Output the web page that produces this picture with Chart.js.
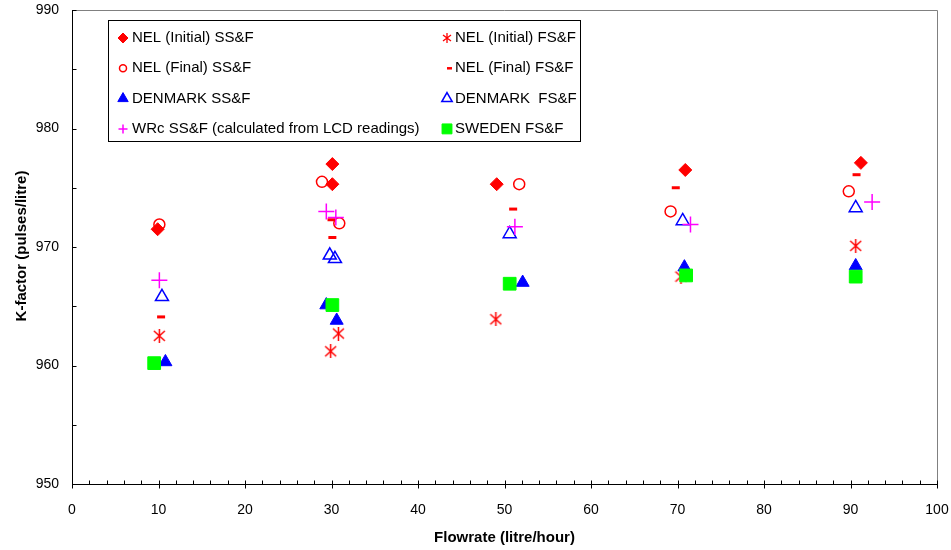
<!DOCTYPE html>
<html>
<head>
<meta charset="utf-8">
<script src="https://cdn.jsdelivr.net/npm/chart.js@4/dist/chart.umd.min.js"></script>
<style>
  html, body { margin: 0; padding: 0; background: #fff; }
  #wrap { width: 951px; height: 550px; }
</style>
</head>
<body>
<div id="wrap"><canvas id="chart" width="951" height="550"></canvas></div>
<script>
// --- 数据 ---
const nelInitSSx = [9.9, 30.1, 30.1, 49.1, 70.9, 91.2];
const nelInitSSy = [971.5, 977.0, 975.3, 975.3, 976.5, 977.1];

const nelInitFSx = [10.1, 30.8, 29.9, 49.0, 70.4, 90.6];
const nelInitFSy = [962.5, 962.7, 961.2, 963.9, 967.5, 970.1];

const nelFinalSSx = [10.1, 28.9, 30.9, 51.7, 69.2, 89.8];
const nelFinalSSy = [971.9, 975.5, 972.0, 975.3, 973.0, 974.7];

const nelFinalFSx = [10.3, 30.0, 30.1, 51.0, 69.8, 90.7];
const nelFinalFSy = [964.1, 972.3, 970.8, 973.2, 975.0, 976.1];

const denSSx = [10.8, 29.4, 30.6, 52.1, 70.8, 90.6];
const denSSy = [960.3, 965.1, 963.8, 967.0, 968.3, 968.4];

const denFSx = [10.4, 29.8, 30.4, 50.6, 70.6, 90.6];
const denFSy = [965.8, 969.3, 969.0, 971.1, 972.2, 973.3];

const wrcSSx = [10.1, 29.4, 30.5, 51.2, 71.5, 92.5];
const wrcSSy = [967.2, 973.0, 972.5, 971.7, 971.9, 973.8];

const sweFSx = [9.5, 30.1, 50.6, 71.0, 90.6];
const sweFSy = [960.2, 965.1, 966.9, 967.6, 967.5];

const xTicks = [0, 10, 20, 30, 40, 50, 60, 70, 80, 90, 100];
const yTicks = [950, 960, 970, 980, 990];

const FONT = "'Liberation Sans', Arial, sans-serif";

function pts(xs, ys) {
  return xs.map((x, i) => ({ x: x, y: ys[i] }));
}

// 星号标记 (竖线 + X)
function makeAsterisk(w, h, color, lw) {
  const c = document.createElement('canvas');
  c.width = w; c.height = h;
  const g = c.getContext('2d');
  g.strokeStyle = color; g.lineWidth = lw;
  g.beginPath();
  g.moveTo(w / 2, 0); g.lineTo(w / 2, h);
  g.moveTo(1, 2); g.lineTo(w - 1, h - 2);
  g.moveTo(w - 1, 2); g.lineTo(1, h - 2);
  g.stroke();
  return c;
}

const starBig = makeAsterisk(13, 14, '#FF0000', 1.5);
const starSmall = makeAsterisk(10, 10, '#FF0000', 1.3);

const NONE = 'rgba(0,0,0,0)';

// 系列: label, data, style, legend column/row
const series = [
  { label: 'NEL (Initial) SS&F', data: pts(nelInitSSx, nelInitSSy), style: 'rectRot', r: 6.5, lr: 5, fill: '#FF0000', stroke: '#FF0000', bw: 1, col: 0, row: 0 },
  { label: 'NEL (Initial) FS&F', data: pts(nelInitFSx, nelInitFSy), style: starBig, legendStyle: starSmall, r: 7, lr: 5, fill: NONE, stroke: '#FF0000', bw: 1, col: 1, row: 0 },
  { label: 'NEL (Final) SS&F', data: pts(nelFinalSSx, nelFinalSSy), style: 'circle', r: 5.5, lr: 3.5, fill: NONE, stroke: '#FF0000', bw: 1.5, col: 0, row: 1 },
  { label: 'NEL (Final) FS&F', data: pts(nelFinalFSx, nelFinalFSy), style: 'line', r: 4, lr: 2.5, fill: NONE, stroke: '#FF0000', bw: 3, lbw: 2.5, col: 1, row: 1, ldx: 2.5 },
  { label: 'DENMARK SS&F', data: pts(denSSx, denSSy), style: 'triangle', r: 7.5, lr: 6, fill: '#0000FF', stroke: '#0000FF', bw: 1, col: 0, row: 2 },
  { label: 'DENMARK  FS&F', data: pts(denFSx, denFSy), style: 'triangle', r: 7.5, lr: 6, fill: NONE, stroke: '#0000FF', bw: 1.5, col: 1, row: 2 },
  { label: 'WRc SS&F (calculated from LCD readings)', data: pts(wrcSSx, wrcSSy), style: 'cross', r: 8, lr: 4.5, fill: NONE, stroke: '#FF00FF', bw: 1.5, col: 0, row: 3 },
  { label: 'SWEDEN FS&F', data: pts(sweFSx, sweFSy), style: 'rect', r: 9, lr: 7, fill: '#00FF00', stroke: '#00FF00', bw: 1, col: 1, row: 3 }
];

const datasets = series.map((s, i) => ({
  label: s.label,
  data: s.data,
  showLine: false,
  pointStyle: s.style,
  pointRadius: s.r,
  pointHoverRadius: s.r,
  pointBackgroundColor: s.fill,
  pointBorderColor: s.stroke,
  pointBorderWidth: s.bw,
  order: series.length - i
}));

// 坐标轴、刻度、外框和图例
const decorPlugin = {
  id: 'decor',
  afterDraw(chart) {
    const ctx = chart.ctx;
    const a = chart.chartArea;
    const xs = chart.scales.x, ys = chart.scales.y;
    ctx.save();

    // 灰色上/右边框
    ctx.strokeStyle = '#808080';
    ctx.lineWidth = 1;
    ctx.beginPath();
    ctx.moveTo(a.left, Math.round(a.top) + 0.5);
    ctx.lineTo(Math.round(a.right) + 0.5, Math.round(a.top) + 0.5);
    ctx.lineTo(Math.round(a.right) + 0.5, a.bottom);
    ctx.stroke();

    // 黑色坐标轴
    const L = Math.round(a.left) + 0.5, B = Math.round(a.bottom) + 0.5;
    ctx.strokeStyle = '#000';
    ctx.beginPath();
    ctx.moveTo(L, Math.round(a.top));
    ctx.lineTo(L, B);
    ctx.lineTo(Math.round(a.right) + 1, B);
    // x 刻度: 次刻度每 2, 主刻度穿过轴线
    for (let v = 0; v <= 100; v += 2) {
      const px = Math.round(xs.getPixelForValue(v)) + 0.5;
      const major = v % 10 === 0;
      ctx.moveTo(px, B - 4);
      ctx.lineTo(px, B + (major ? 4 : 0));
    }
    // y 刻度: 每 5, 向内
    for (let v = 950; v <= 990; v += 5) {
      const py = Math.round(ys.getPixelForValue(v)) + 0.5;
      ctx.moveTo(L, py);
      ctx.lineTo(L + 4, py);
    }
    ctx.stroke();

    // 轴标题
    ctx.fillStyle = '#000';
    ctx.font = 'bold 15px ' + FONT;
    ctx.textAlign = 'center';
    ctx.textBaseline = 'middle';
    ctx.fillText('Flowrate (litre/hour)', (a.left + a.right) / 2, 538);
    ctx.save();
    ctx.translate(22, 246);
    ctx.rotate(-Math.PI / 2);
    ctx.fillText('K-factor (pulses/litre)', 0, 0);
    ctx.restore();

    // 图例框
    const bx = 108.5, by = 20.5, bw = 472, bh = 121;
    ctx.fillStyle = '#fff';
    ctx.fillRect(bx, by, bw, bh);
    ctx.strokeStyle = '#000';
    ctx.lineWidth = 1;
    ctx.strokeRect(bx, by, bw, bh);

    ctx.font = '15px ' + FONT;
    ctx.textAlign = 'left';
    ctx.textBaseline = 'middle';
    const colMarker = [123, 447], colText = [132, 455];
    series.forEach(s => {
      const mx = colMarker[s.col] + (s.ldx || 0);
      const my = 38 + s.row * 30.3;
      ctx.fillStyle = s.fill;
      ctx.strokeStyle = s.stroke;
      ctx.lineWidth = s.lbw || s.bw;
      Chart.helpers.drawPoint(ctx, {
        pointStyle: s.legendStyle || s.style,
        radius: s.lr,
        rotation: 0,
        borderWidth: s.lbw || s.bw
      }, mx, my);
      ctx.fillStyle = '#000';
      ctx.fillText(s.label, colText[s.col], my);
    });
    ctx.restore();
  }
};

new Chart(document.getElementById('chart'), {
  type: 'scatter',
  data: { datasets: datasets },
  options: {
    responsive: false,
    animation: false,
    events: [],
    layout: { padding: { top: 10, right: 14, left: 0, bottom: 0 } },
    plugins: {
      legend: { display: false },
      tooltip: { enabled: false }
    },
    scales: {
      x: {
        type: 'linear',
        min: 0,
        max: 100,
        afterBuildTicks: scale => { scale.ticks = xTicks.map(v => ({ value: v })); },
        afterFit: scale => { scale.height = 66; scale.paddingLeft = 0; scale.paddingRight = 0; },
        grid: { display: false, drawTicks: false },
        border: { display: false },
        ticks: { color: '#000', font: { family: FONT, size: 14 }, padding: 18, maxRotation: 0, autoSkip: false }
      },
      y: {
        type: 'linear',
        min: 950,
        max: 990,
        afterBuildTicks: scale => { scale.ticks = yTicks.map(v => ({ value: v })); },
        afterFit: scale => { scale.width = 72; scale.paddingTop = 0; scale.paddingBottom = 0; },
        grid: { display: false, drawTicks: false },
        border: { display: false },
        ticks: { color: '#000', font: { family: FONT, size: 14 }, padding: 13 }
      }
    }
  },
  plugins: [decorPlugin]
});
</script>
</body>
</html>
